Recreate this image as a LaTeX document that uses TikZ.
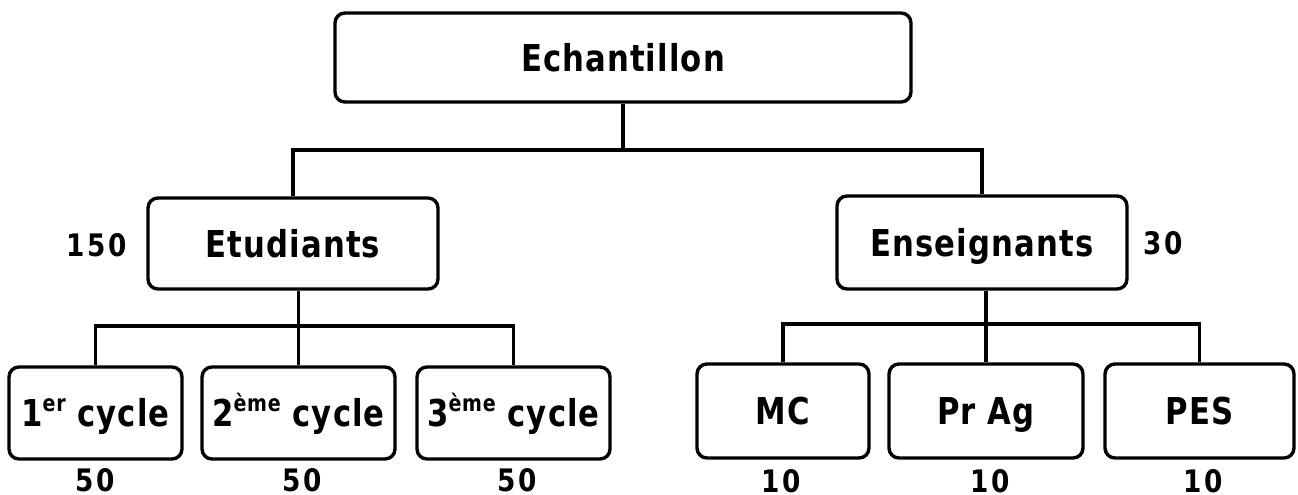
\documentclass[tikz,border=0pt]{standalone}
\usepackage{fontspec}
\newfontfamily\boxfont{DejaVu Sans}[FakeStretch=0.83, LetterSpace=3]
\newfontfamily\numfont{DejaVu Sans}[FakeStretch=0.85, LetterSpace=9]
\newcommand\expo[1]{\raisebox{15pt}{\fontsize{23}{23}\selectfont #1}}
\tikzset{
  box/.style={draw, line width=3.4pt, rounded corners=10pt, inner sep=0pt,
    text height=27pt, text depth=0pt,
    font=\boxfont\bfseries\fontsize{37}{42}\selectfont},
  count/.style={inner sep=0pt, text height=22pt, text depth=0pt,
    font=\numfont\bfseries\fontsize{31}{36}\selectfont},
  link/.style={line width=3.4pt}
}
\begin{document}
\begin{tikzpicture}[x=1pt, y=-1pt]
\useasboundingbox (0,0) rectangle (1298,495);

% top level
\node[box, minimum width=576pt, minimum height=89pt] (ech) at (623,57.5) {Echantillon};

% second level
\node[box, minimum width=290pt, minimum height=91pt] (etu) at (293,243.5) {Etudiants};
\node[box, minimum width=290pt, minimum height=93pt] (ens) at (982,242.5) {Enseignants};
\node[count] (n150) at (97,245) {150};
\node[count] (n30) at (1163,243) {30};

% students by cycle
\node[box, minimum width=173pt, minimum height=92pt] (c1) at (95.5,413) {1\expo{er} cycle};
\node[box, minimum width=193pt, minimum height=92pt] (c2) at (298.5,413) {2\expo{ème} cycle};
\node[box, minimum width=193pt, minimum height=92pt] (c3) at (513.5,413) {3\expo{ème} cycle};
\node[count] (k1) at (95,480) {50};
\node[count] (k2) at (302,480) {50};
\node[count] (k3) at (517,480) {50};

% teachers by grade
\node[box, minimum width=172pt, minimum height=94pt] (mc) at (783,411) {MC};
\node[box, minimum width=194pt, minimum height=94pt] (prag) at (986,411) {Pr Ag};
\node[box, minimum width=189pt, minimum height=94pt] (pes) at (1199.5,411) {PES};
\node[count] (t1) at (781,481) {10};
\node[count] (t2) at (990,481) {10};
\node[count] (t3) at (1203,481) {10};

% connectors
\coordinate (bus1) at (623,150);
\coordinate (bus2) at (298.5,326);
\coordinate (bus3) at (986,324);
\draw[link] (ech.south) -- (ech.south |- bus1);
\draw[link] (etu.north) |- (bus1) -| (ens.north);
\draw[link] (c1.north) |- (bus2) -| (c3.north);
\draw[link] (c2.north) -- (etu.south -| c2.north);
\draw[link] (mc.north) |- (bus3) -| (pes.north);
\draw[link] (prag.north) -- (ens.south -| prag.north);
\end{tikzpicture}
\end{document}
